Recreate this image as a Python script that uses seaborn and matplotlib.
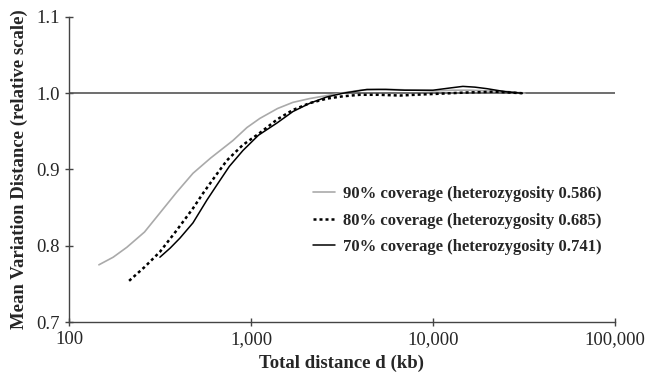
import matplotlib
matplotlib.use("Agg")
import matplotlib.pyplot as plt
import seaborn as sns
from matplotlib.ticker import FixedLocator, NullLocator

# curve data (distance in kb, relative MVD)
d90 = [146, 175, 208, 260, 316, 390, 480, 600, 796, 950, 1119, 1400, 1698, 2100, 2618,
       3300, 4000, 5000, 6000, 8000, 10000, 13000, 16000, 20000, 24000, 32000]
v90 = [0.775, 0.785, 0.798, 0.818, 0.843, 0.870, 0.895, 0.915, 0.938, 0.955, 0.967, 0.980,
       0.988, 0.993, 0.997, 1.001, 1.004, 1.005, 1.005, 1.004, 1.003, 1.004, 1.004, 1.003,
       1.003, 1.000]

d80 = [214, 260, 316, 390, 480, 546, 640, 738, 900, 1119, 1400, 1698, 2100, 2618, 3200,
       3972, 5000, 6590, 8000, 10000, 15400, 22000, 31000]
v80 = [0.754, 0.772, 0.792, 0.820, 0.849, 0.869, 0.892, 0.912, 0.932, 0.948, 0.966, 0.978,
       0.987, 0.993, 0.996, 0.998, 0.998, 0.997, 0.998, 0.999, 1.001, 1.002, 1.000]

d70 = [316, 360, 407, 480, 573, 651, 760, 904, 1100, 1390, 1700, 2110, 2600, 3200, 4340,
       5500, 7000, 10000, 12500, 14600, 17000, 19800, 25000, 31000]
v70 = [0.785, 0.797, 0.810, 0.830, 0.860, 0.880, 0.904, 0.925, 0.945, 0.961, 0.976, 0.987,
       0.995, 1.000, 1.005, 1.005, 1.004, 1.004, 1.007, 1.009, 1.008, 1.006, 1.002, 1.000]

labels = ["90% coverage (heterozygosity 0.586)",
          "80% coverage (heterozygosity 0.685)",
          "70% coverage (heterozygosity 0.741)"]
xticks = [100, 1000, 10000, 100000]
xticklabels = ["100", "1,000", "10,000", "100,000"]
yticks = [0.7, 0.8, 0.9, 1.0, 1.1]

sns.set_style("ticks")
plt.rcParams["font.family"] = ["Liberation Serif", "DejaVu Serif"]

fig = plt.figure(figsize=(6.47, 3.75), dpi=100)
ax = fig.add_axes([0.1066, 0.1413, 0.8439, 0.8134])

ax.axhline(1.0, color="#555555", lw=1.2, zorder=1)

dots = (0, (1.2, 1.2))
sns.lineplot(x=d90, y=v90, ax=ax, color="#aaaaaa", lw=1.2, label=labels[0])
sns.lineplot(x=d80, y=v80, ax=ax, color="black", lw=1.8, label=labels[1])
sns.lineplot(x=d70, y=v70, ax=ax, color="black", lw=1.1, label=labels[2])
ax.lines[2].set_linestyle(dots)

ax.set_xscale("log")
ax.set_xlim(100, 100000)
ax.set_ylim(0.7, 1.1)
ax.xaxis.set_major_locator(FixedLocator(xticks))
ax.xaxis.set_minor_locator(NullLocator())
ax.set_xticklabels(xticklabels)
ax.set_yticks(yticks)
ax.set_yticklabels([f"{t:.1f}" for t in yticks])
ax.tick_params(labelsize=13.5, length=6, width=1, direction="inout", color="#444444")

for s in ["top", "right"]:
    ax.spines[s].set_visible(False)
for s in ["left", "bottom"]:
    ax.spines[s].set_color("#444444")
    ax.spines[s].set_linewidth(1)

ax.set_xlabel("Total distance d (kb)", fontsize=13.5, fontweight="bold", labelpad=5)
ax.set_ylabel("Mean Variation Distance (relative scale)", fontsize=13.5,
              fontweight="bold", labelpad=6)

leg = ax.legend(loc="upper left", bbox_to_anchor=(0.447, 0.445), frameon=False,
                borderpad=0, borderaxespad=0,
                handlelength=1.3, handletextpad=0.5, labelspacing=0.62,
                prop={"weight": "bold", "size": 12})
leg.get_lines()[1].set_linestyle(dots)

fig.savefig("out.png", dpi=100)
